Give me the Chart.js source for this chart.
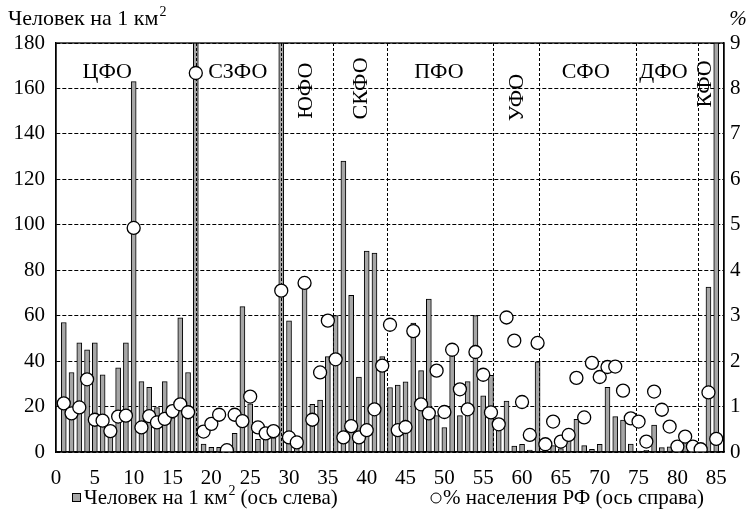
<!DOCTYPE html>
<html>
<head>
<meta charset="utf-8">
<script src="https://cdn.jsdelivr.net/npm/chart.js@4.4.0/dist/chart.umd.min.js"></script>
<style>
  html, body { margin: 0; padding: 0; background: #fff; }
  #wrap { width: 748px; height: 513px; position: relative; }
</style>
</head>
<body>
<div id="wrap"><canvas id="densityChart"></canvas></div>
<script>
// regions numbered 1..85 in the Rosstat order
const regionNums = Array.from({ length: 85 }, (_, i) => i + 1);
const xTicks = [0, 5, 10, 15, 20, 25, 30, 35, 40, 45, 50, 55, 60, 65, 70, 75, 80, 85];

// people per km2 (left axis), values above 180 are cut by the axis
const density = [
  57, 35, 48, 45, 48, 34, 11, 37, 48, 163,
  31, 28.5, 19.5, 31, 15, 59, 35, 4900, 3.5, 2.1,
  2.1, 0.2, 8.2, 64, 21.2, 5.6, 6, 6.2, 3800, 57.7,
  3.8, 74, 21, 22.9, 42, 60, 128, 69, 33, 88.4,
  87.5, 42, 28.4, 29.5, 30.9, 56.7, 35.8, 67.3, 16, 10.8,
  43, 16, 31, 60, 24.7, 33.7, 10, 22.4, 2.6, 3.4,
  0.9, 39.7, 2.3, 2.8, 1.5, 8.7, 14.4, 2.8, 1.2, 3.4,
  28.5, 15.6, 14.1, 3.5, 0.4, 0.7, 11.8, 1.9, 2.3, 0.3,
  5.6, 4.5, 0.1, 72.6, 1100
];

// share of population of RF, % (right axis)
const popShare = [
  1.07, 0.85, 0.98, 1.6, 0.71, 0.69, 0.46, 0.78, 0.80, 4.93,
  0.54, 0.79, 0.65, 0.73, 0.90, 1.05, 0.875, 8.34, 0.45, 0.62,
  0.82, 0.04, 0.82, 0.68, 1.22, 0.54, 0.41, 0.46, 3.55, 0.32,
  0.21, 3.72, 0.71, 1.75, 2.89, 2.04, 0.32, 0.57, 0.32, 0.48,
  0.94, 1.9, 2.8, 0.48, 0.55, 2.66, 1.05, 0.85, 1.79, 0.88,
  2.25, 1.38, 0.94, 2.2, 1.70, 0.87, 0.61, 2.96, 2.45, 1.10,
  0.375, 2.40, 0.17, 0.67, 0.23, 0.375, 1.63, 0.76, 1.96, 1.65,
  1.87, 1.88, 1.35, 0.74, 0.67, 0.23, 1.33, 0.93, 0.56, 0.12,
  0.34, 0.12, 0.06, 1.31, 0.29
];

const districtNames = ['ЦФО', 'СЗФО', 'ЮФО', 'СКФО', 'ПФО', 'УФО', 'СФО', 'ДФО', 'КФО'];
// borders between federal districts (in region numbers)
const districtBounds = [18, 29, 35.6, 42.6, 56.3, 62.2, 74.7, 82.7];

// where each district name sits: x in region numbers, y in people/km2
const districtLabelPos = [
  { x: 6.6, y: 167, rot: false },
  { x: 23.4, y: 167, rot: false },
  { x: 32.2, y: 159, rot: true },
  { x: 39.3, y: 160, rot: true },
  { x: 49.3, y: 167, rot: false },
  { x: 59.4, y: 156, rot: true },
  { x: 68.2, y: 167, rot: false },
  { x: 78.2, y: 167, rot: false },
  { x: 83.6, y: 162, rot: true }
];

const FONT = "'Liberation Serif', 'Times New Roman', serif";
Chart.defaults.font.family = FONT;
Chart.defaults.color = '#000';

const districtsPlugin = {
  id: 'districts',
  afterDatasetDraw(chart, args) {
    if (args.index !== 0) return;
    const { ctx, chartArea: a, scales: { x } } = chart;
    ctx.save();
    ctx.strokeStyle = '#000';
    ctx.lineWidth = 1;
    ctx.setLineDash([3, 2]);
    districtBounds.forEach(b => {
      const px = Math.round(x.getPixelForValue(b)) + 0.5;
      ctx.beginPath();
      ctx.moveTo(px, a.top);
      ctx.lineTo(px, a.bottom);
      ctx.stroke();
    });
    ctx.restore();
  },
  afterDatasetsDraw(chart) {
    const { ctx, chartArea: a, scales: { x, y } } = chart;
    ctx.save();
    ctx.strokeStyle = '#000';
    ctx.lineWidth = 1.3;
    ctx.strokeRect(a.left, a.top, a.right - a.left, a.bottom - a.top);

    ctx.font = '22px ' + FONT;
    ctx.fillStyle = '#000';
    ctx.textAlign = 'center';
    ctx.textBaseline = 'middle';
    districtNames.forEach((name, i) => {
      const p = districtLabelPos[i];
      const px = x.getPixelForValue(p.x);
      const py = y.getPixelForValue(p.y);
      if (p.rot) {
        ctx.save();
        ctx.translate(px, py);
        ctx.rotate(-Math.PI / 2);
        ctx.fillText(name, 0, 0);
        ctx.restore();
      } else {
        ctx.fillText(name, px, py);
      }
    });

    // axis captions
    ctx.textAlign = 'left';
    ctx.textBaseline = 'alphabetic';
    ctx.font = '22px ' + FONT;
    const cap = 'Человек на 1 км';
    ctx.fillText(cap, 8, 25);
    const w = ctx.measureText(cap).width;
    ctx.font = '14px ' + FONT;
    ctx.fillText('2', 8 + w + 1, 16);
    ctx.font = 'italic 21px ' + FONT;
    ctx.textAlign = 'center';
    ctx.fillText('%', 738, 25);

    // legend
    const ly = 497;
    ctx.font = '21px ' + FONT;
    ctx.textAlign = 'left';
    ctx.textBaseline = 'middle';
    ctx.fillStyle = '#a6a6a6';
    ctx.fillRect(72, ly - 4, 9, 9);
    ctx.lineWidth = 1;
    ctx.strokeRect(72.5, ly - 3.5, 8, 8);
    ctx.fillStyle = '#000';
    const leg1 = 'Человек на 1 км';
    ctx.fillText(leg1, 84, ly + 1);
    const lw = ctx.measureText(leg1).width;
    ctx.font = '14px ' + FONT;
    ctx.fillText('2', 84 + lw + 1, ly - 6);
    ctx.font = '21px ' + FONT;
    ctx.fillText('(ось слева)', 84 + lw + 13, ly + 1);
    ctx.beginPath();
    ctx.arc(436, ly + 1, 5, 0, Math.PI * 2);
    ctx.fillStyle = '#fff';
    ctx.fill();
    ctx.stroke();
    ctx.fillStyle = '#000';
    ctx.fillText('% населения РФ (ось справа)', 443, ly + 1);
    ctx.restore();
  }
};

new Chart(document.getElementById('densityChart'), {
  type: 'bar',
  data: {
    datasets: [
      {
        type: 'bar',
        label: 'Человек на 1 км² (ось слева)',
        data: regionNums.map((n, i) => ({ x: n, y: density[i] })),
        backgroundColor: '#a6a6a6',
        borderColor: '#000',
        borderWidth: 1,
        barThickness: 5,
        yAxisID: 'y',
        order: 1
      },
      {
        type: 'scatter',
        label: '% населения РФ (ось справа)',
        data: regionNums.map((n, i) => ({ x: n, y: popShare[i] })),
        backgroundColor: '#fff',
        borderColor: '#000',
        borderWidth: 1.3,
        pointRadius: 6.5,
        yAxisID: 'y1',
        order: 0
      }
    ]
  },
  options: {
    responsive: true,
    maintainAspectRatio: false,
    animation: false,
    layout: { padding: { top: 43, right: 0, bottom: 29, left: 0 } },
    plugins: {
      tooltip: { enabled: false },
      legend: { display: false }
    },
    scales: {
      x: {
        type: 'linear',
        min: 0,
        max: 86,
        offset: false,
        grid: { display: false, offset: false },
        border: { display: true, color: '#000', width: 1.3 },
        ticks: { font: { size: 21 }, padding: 6, maxRotation: 0, autoSkip: false },
        afterBuildTicks: s => { s.ticks = xTicks.map(v => ({ value: v })); },
        afterFit: s => { s.height = 32; }
      },
      y: {
        position: 'left',
        min: 0,
        max: 180,
        grid: { color: '#000', lineWidth: 1, drawTicks: false },
        border: { display: true, color: '#000', width: 1.3, dash: [4, 2] },
        ticks: { stepSize: 20, font: { size: 21 }, padding: 11 },
        afterFit: s => { s.width = 56; }
      },
      y1: {
        position: 'right',
        min: 0,
        max: 9,
        grid: { drawOnChartArea: false, drawTicks: false },
        border: { display: true, color: '#000', width: 1.3 },
        ticks: { stepSize: 1, font: { size: 21 }, padding: 6 },
        afterFit: s => { s.width = 24; }
      }
    }
  },
  plugins: [districtsPlugin]
});
</script>
</body>
</html>
